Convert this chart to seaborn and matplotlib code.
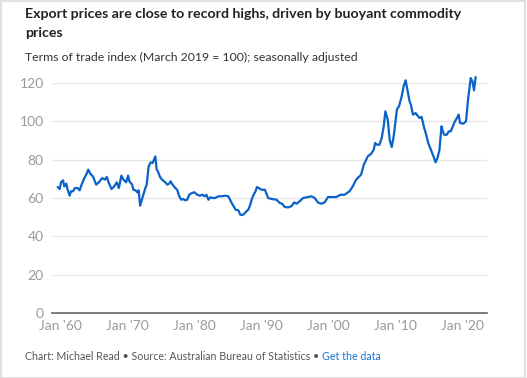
import matplotlib
matplotlib.use("Agg")
import matplotlib.pyplot as plt
import seaborn as sns
import pandas as pd
from matplotlib.patches import Rectangle

# ---- data ----
years = [
    1959.65, 1959.95, 1960.15, 1960.45, 1960.64, 1960.94, 1961.14, 1961.44, 1961.63, 1961.93,
    1962.23, 1962.63, 1962.92, 1963.22, 1963.62, 1963.91, 1964.21, 1964.51, 1964.90, 1965.40,
    1965.79, 1966.29, 1966.69, 1966.98, 1967.28, 1967.68, 1968.07, 1968.47, 1968.77, 1969.16,
    1969.46, 1969.86, 1970.15, 1970.35, 1970.75, 1970.95, 1971.24, 1971.54, 1971.74, 1971.94,
    1972.14, 1972.43, 1972.73, 1972.93, 1973.22, 1973.52, 1973.82, 1974.02, 1974.22, 1974.41,
    1974.61, 1974.91, 1975.21, 1975.70, 1976.00, 1976.30, 1976.49, 1976.79, 1977.19, 1977.48,
    1977.78, 1978.08, 1978.38, 1978.67, 1978.97, 1979.27, 1979.66, 1980.06, 1980.46, 1980.85,
    1981.25, 1981.55, 1981.84, 1982.14, 1982.44, 1982.73, 1983.13, 1983.63, 1984.12, 1984.62,
    1985.11, 1985.61, 1985.90, 1986.20, 1986.60, 1986.89, 1987.19, 1987.49, 1987.79, 1988.08,
    1988.38, 1988.58, 1988.88, 1989.17, 1989.37, 1989.67, 1990.06, 1990.56, 1991.05, 1991.55,
    1992.29, 1992.79, 1993.14, 1993.53, 1994.03, 1994.52, 1994.92, 1995.26, 1995.76, 1996.26,
    1997.00, 1997.49, 1997.99, 1998.48, 1998.98, 1999.48, 1999.97, 2000.47, 2001.21, 2001.85,
    2002.45, 2003.19, 2003.68, 2004.18, 2004.92, 2005.32, 2005.91, 2006.41, 2006.81, 2007.00,
    2007.30, 2007.65, 2007.99, 2008.29, 2008.54, 2008.89, 2009.18, 2009.48, 2009.78, 2010.07,
    2010.27, 2010.57, 2010.97, 2011.26, 2011.56, 2011.86, 2012.15, 2012.35, 2012.65, 2013.05,
    2013.34, 2013.64, 2013.94, 2014.33, 2014.63, 2014.93, 2015.32, 2015.72, 2016.02, 2016.32,
    2016.61, 2016.91, 2017.11, 2017.31, 2017.70, 2018.00, 2018.30, 2018.79, 2019.19, 2019.48,
    2019.68, 2020.18, 2020.57, 2020.87, 2021.27, 2021.52, 2021.76, 2022.01,
]
tot_index = [
    65.7, 64.7, 68.2, 69.2, 66.0, 67.5, 64.3, 61.2, 63.5, 63.5,
    65.2, 65.2, 64.0, 67.0, 70.4, 72.2, 74.8, 72.7, 71.3, 67.0,
    68.2, 70.4, 69.6, 71.0, 67.8, 64.7, 66.0, 68.2, 65.2, 71.7,
    69.6, 68.2, 71.7, 68.7, 67.0, 64.3, 64.0, 62.9, 64.0, 56.0,
    58.3, 61.7, 65.2, 67.0, 76.5, 78.6, 78.3, 80.0, 81.7, 74.8,
    73.9, 71.0, 69.6, 68.2, 67.0, 67.5, 68.7, 67.0, 65.2, 64.3,
    60.9, 59.1, 59.5, 58.8, 59.1, 61.7, 62.6, 63.0, 61.7, 61.2,
    61.7, 60.9, 61.7, 59.1, 60.4, 60.0, 60.0, 60.9, 60.9, 61.2,
    60.9, 57.4, 55.7, 53.9, 53.6, 51.3, 51.1, 51.8, 53.0, 53.9,
    56.5, 59.1, 61.7, 63.5, 65.7, 65.2, 64.3, 64.3, 60.0, 59.5,
    59.1, 57.4, 57.0, 55.3, 55.1, 55.7, 57.7, 57.0, 58.3, 60.0,
    60.5, 60.9, 60.0, 57.7, 57.0, 57.7, 60.5, 60.5, 60.5, 61.7,
    61.7, 63.5, 66.1, 69.6, 72.2, 77.4, 81.7, 83.1, 85.2, 88.7,
    87.8, 87.8, 91.3, 97.4, 105.2, 100.9, 90.4, 86.6, 92.2, 100.9,
    106.4, 107.8, 113.0, 118.3, 121.4, 115.7, 110.4, 108.7, 103.5, 104.3,
    103.0, 101.7, 102.3, 96.5, 93.0, 88.7, 85.2, 81.7, 78.6, 80.9,
    85.2, 97.4, 94.8, 93.0, 93.0, 94.8, 94.8, 99.1, 101.7, 103.5,
    99.1, 98.8, 100.0, 111.3, 122.6, 120.9, 116.2, 123.1,
]
x_ticks = [1960, 1970, 1980, 1990, 2000, 2010, 2020]
x_tick_labels = ["Jan '60", "Jan '70", "Jan '80", "Jan '90", "Jan '00", "Jan '10", "Jan '20"]
y_ticks = [0, 20, 40, 60, 80, 100, 120]

title_lines = ["Export prices are close to record highs, driven by buoyant commodity", "prices"]
subtitle = "Terms of trade index (March 2019 = 100); seasonally adjusted"
footer = "Chart: Michael Read \u2022 Source: Australian Bureau of Statistics \u2022 "
footer_link = "Get the data"

df = pd.DataFrame({"year": years, "value": tot_index})

sns.set_theme(style="white")
plt.rcParams["font.family"] = ["Lato", "DejaVu Sans"]

W, H = 527, 378
fig = plt.figure(figsize=(W / 100, H / 100), dpi=100)
fig.patch.set_facecolor("white")
ax = fig.add_axes([52 / W, 1 - 313 / H, (487 - 52) / W, (313 - 83) / H])

sns.lineplot(data=df, x="year", y="value", ax=ax, color="#0a62c8", linewidth=1.6)
for ln in ax.lines:
    ln.set_clip_on(False)

ax.set_xlim(1958.8, 2023.7)
ax.set_ylim(0, 120)
ax.set_xticks(x_ticks)
ax.set_xticklabels(x_tick_labels)
ax.set_yticks(y_ticks)
ax.set_xlabel("")
ax.set_ylabel("")
for v in y_ticks[1:]:
    ax.axhline(v, color="#e6e6e6", linewidth=1.0, zorder=0)
for s in ["top", "right", "left"]:
    ax.spines[s].set_visible(False)
ax.spines["bottom"].set_color("#666666")
ax.spines["bottom"].set_linewidth(1.2)
ax.tick_params(axis="both", length=0, labelsize=10, colors="#9a9a9a")
ax.tick_params(axis="x", pad=5)
ax.tick_params(axis="y", pad=6)

renderer = fig.canvas.get_renderer()


def fitted_text(x_px, y_px, s, target_w, size, **kw):
    t = fig.text(x_px / W, 1 - y_px / H, s, fontsize=size, **kw)
    w = t.get_window_extent(renderer).width
    t.set_fontsize(size * target_w / w)
    return t


t1 = fitted_text(25, 18, title_lines[0], 438, 12.3, ha="left", va="baseline",
                 fontweight="bold", color="#222222")
fig.text(25 / W, 1 - 37 / H, title_lines[1], ha="left", va="baseline",
         fontsize=t1.get_fontsize(), fontweight="bold", color="#222222")
fitted_text(25, 61, subtitle, 333, 10, ha="left", va="baseline", color="#333333")
ft = fitted_text(25, 360, footer, 297, 8, ha="left", va="baseline", color="#555555")
bb = ft.get_window_extent(renderer)
fig.text(bb.x1 / W, 1 - 360 / H, footer_link, ha="left", va="baseline",
         fontsize=ft.get_fontsize(), color="#1a73d9")

fig.patches.append(Rectangle((0.5 / W, 0.5 / H), 1 - 3 / W, 1 - 1.5 / H,
                             transform=fig.transFigure, fill=False,
                             edgecolor="#e0e0e0", linewidth=1.5))

fig.savefig("out.png", dpi=100, facecolor="white")
